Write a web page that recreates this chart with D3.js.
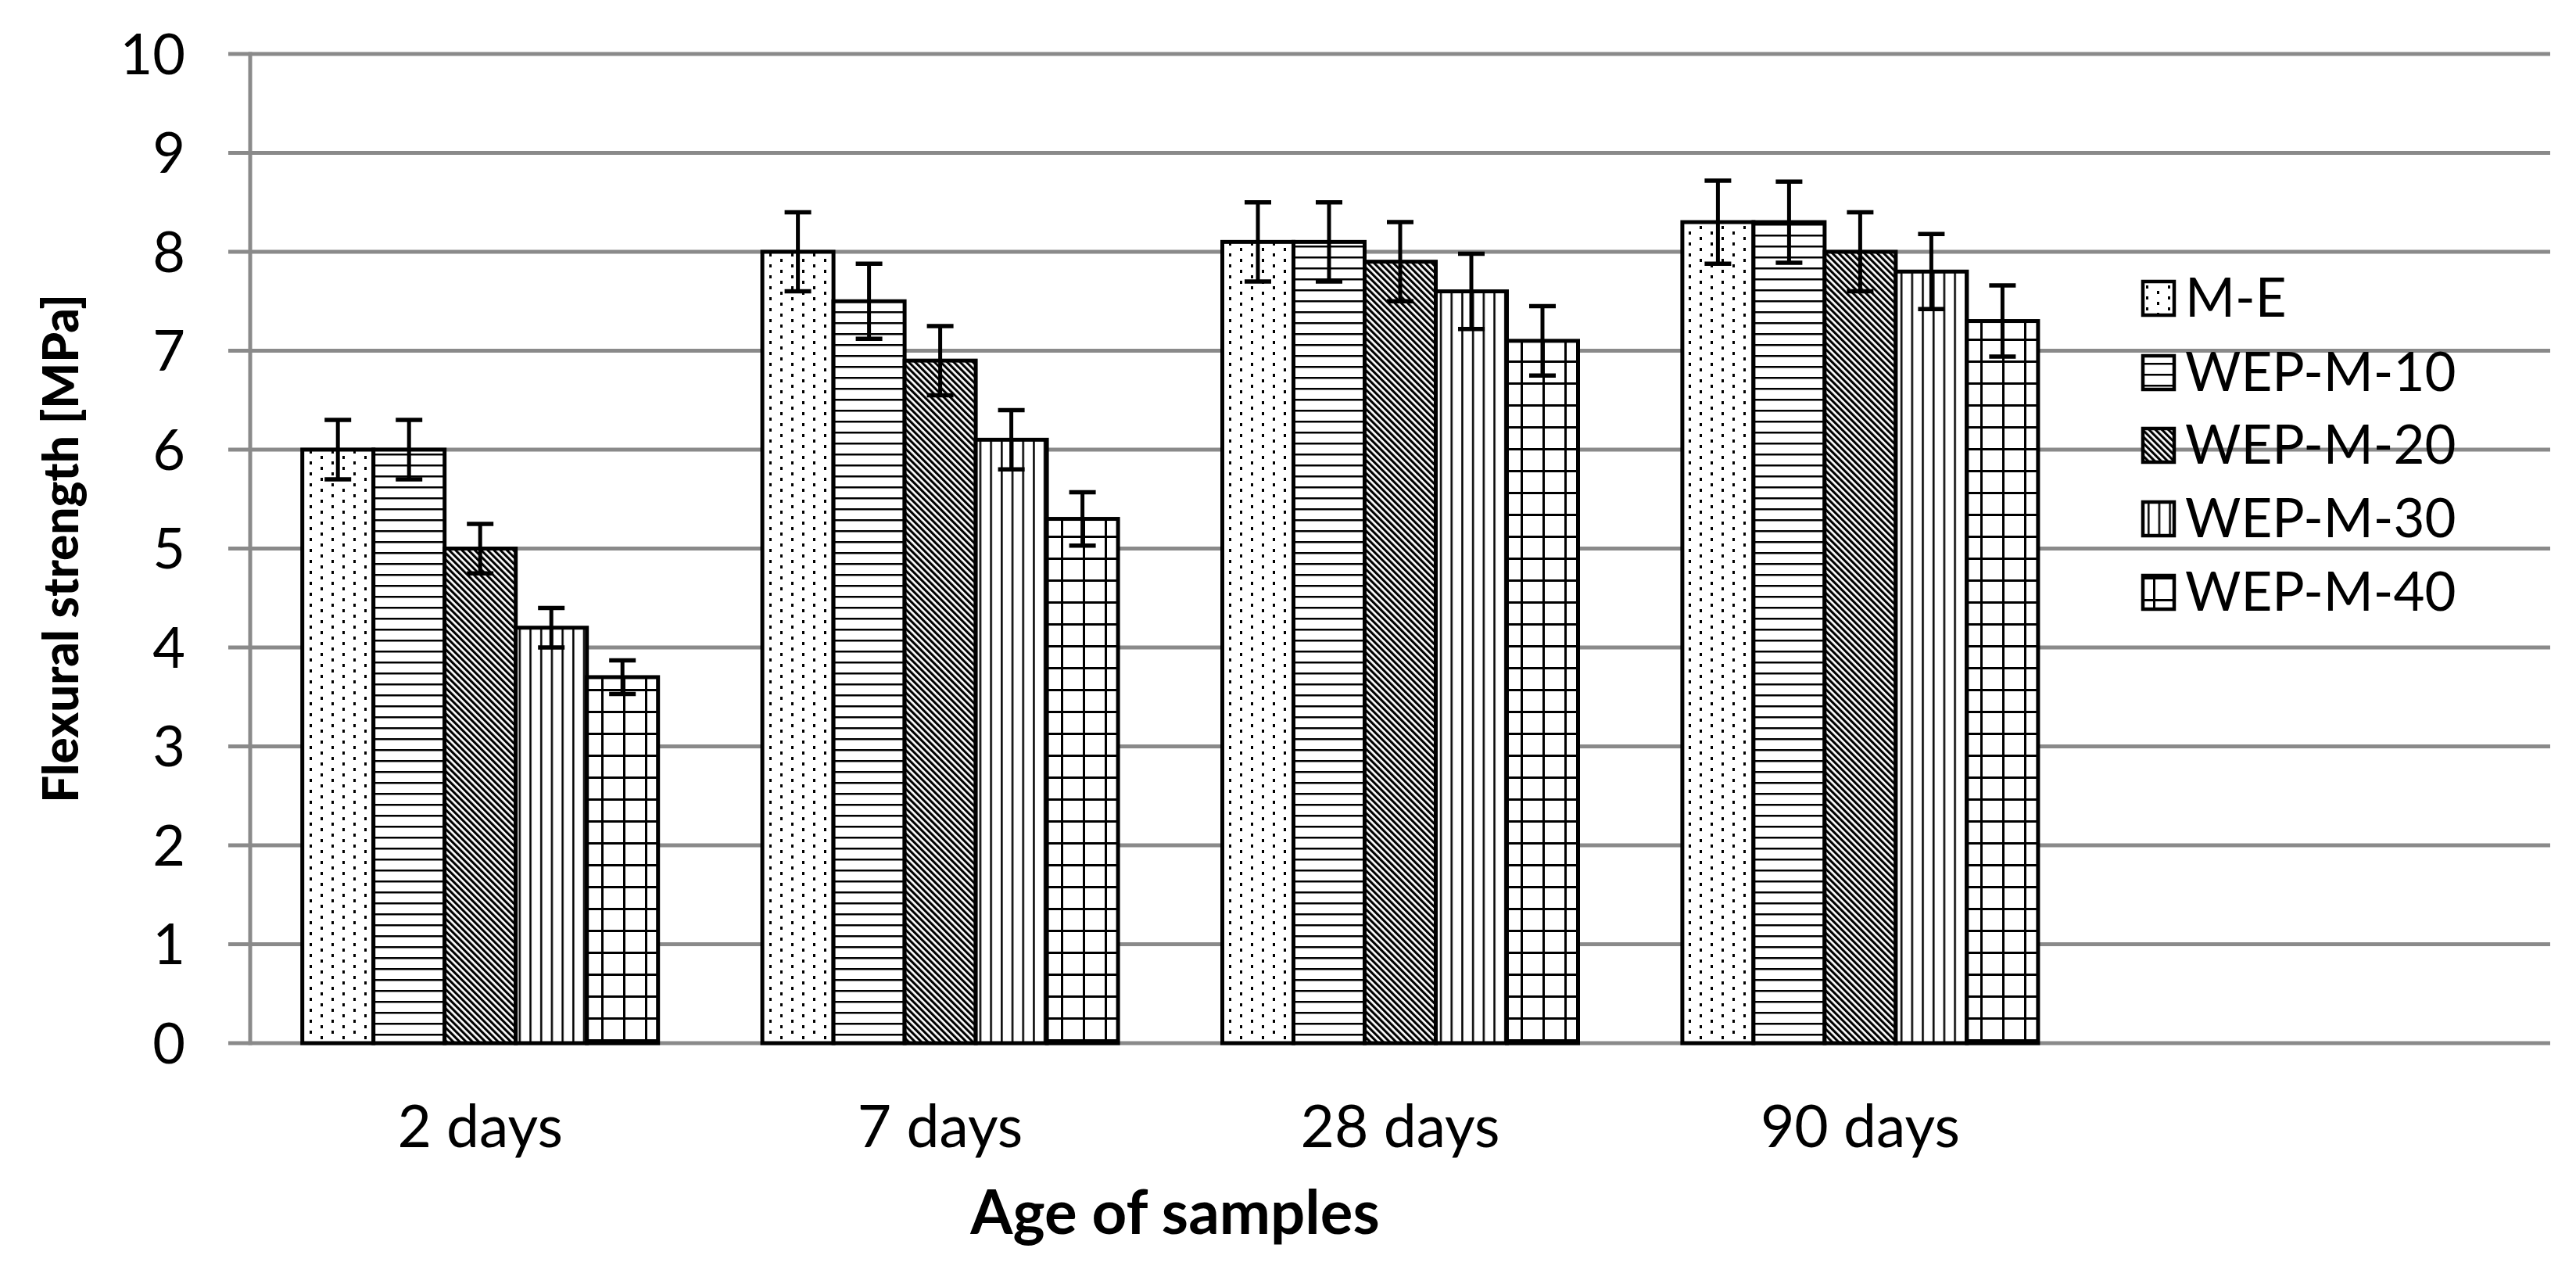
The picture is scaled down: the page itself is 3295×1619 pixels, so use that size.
<!DOCTYPE html>
<html>
<head>
<meta charset="utf-8">
<script src="https://cdn.jsdelivr.net/npm/d3@7/dist/d3.min.js"></script>
<style>
  html, body { margin: 0; padding: 0; background: #ffffff; }
  svg { display: block; }
  text { font-family: Lato, "Open Sans", sans-serif; fill: #000; }
</style>
</head>
<body>
<svg id="chart" width="3295" height="1619"></svg>
<script>
// ---- data ----
const categories = ["2 days", "7 days", "28 days", "90 days"];
const seriesNames = ["M-E", "WEP-M-10", "WEP-M-20", "WEP-M-30", "WEP-M-40"];
const valuesME    = [6.0, 8.0, 8.1, 8.3];
const valuesWEP10 = [6.0, 7.5, 8.1, 8.3];
const valuesWEP20 = [5.0, 6.9, 7.9, 8.0];
const valuesWEP30 = [4.2, 6.1, 7.6, 7.8];
const valuesWEP40 = [3.7, 5.3, 7.1, 7.3];
const errorsME    = [0.30, 0.40, 0.40, 0.42];
const errorsWEP10 = [0.30, 0.38, 0.40, 0.41];
const errorsWEP20 = [0.25, 0.35, 0.40, 0.40];
const errorsWEP30 = [0.20, 0.30, 0.38, 0.38];
const errorsWEP40 = [0.17, 0.27, 0.35, 0.36];
const yTicks = [0, 1, 2, 3, 4, 5, 6, 7, 8, 9, 10];
const yTitle = "Flexural strength [MPa]";
const xTitle = "Age of samples";

const seriesValues = [valuesME, valuesWEP10, valuesWEP20, valuesWEP30, valuesWEP40];
const seriesErrors = [errorsME, errorsWEP10, errorsWEP20, errorsWEP30, errorsWEP40];
const patternIds = ["pDots", "pHoriz", "pDiag", "pVert", "pGrid"];

// ---- layout ----
const svg = d3.select("#chart");
const plotLeft = 320, plotRight = 3262, plotTop = 69, plotBottom = 1334;
const slots = 5; // 4 categories + empty slot where the legend sits
const slotW = (plotRight - plotLeft) / slots;

const x = d3.scaleBand().domain(categories)
  .range([plotLeft, plotLeft + slotW * categories.length]).paddingInner(0).paddingOuter(0);
const xs = d3.scaleBand().domain(seriesNames).range([0, x.bandwidth()])
  .paddingInner(0).paddingOuter(0.733);
const y = d3.scaleLinear().domain([0, 10]).range([plotBottom, plotTop]);

svg.append("rect").attr("width", 3295).attr("height", 1619).attr("fill", "#fff");

// ---- patterns ----
const defs = svg.append("defs");
{
  const p = defs.append("pattern").attr("id", "pDots").attr("patternUnits", "userSpaceOnUse")
    .attr("width", 28).attr("height", 14);
  p.append("rect").attr("width", 28).attr("height", 14).attr("fill", "#fff");
  p.append("rect").attr("x", 4).attr("y", 2).attr("width", 3).attr("height", 4).attr("fill", "#000");
  p.append("rect").attr("x", 18).attr("y", 9).attr("width", 3).attr("height", 4).attr("fill", "#000");
}
{
  const p = defs.append("pattern").attr("id", "pHoriz").attr("patternUnits", "userSpaceOnUse")
    .attr("width", 14).attr("height", 14);
  p.append("rect").attr("width", 14).attr("height", 14).attr("fill", "#fff");
  p.append("rect").attr("x", 0).attr("y", 6).attr("width", 14).attr("height", 2.5).attr("fill", "#000");
}
{
  const p = defs.append("pattern").attr("id", "pVert").attr("patternUnits", "userSpaceOnUse")
    .attr("width", 13.7).attr("height", 14);
  p.append("rect").attr("width", 13.7).attr("height", 14).attr("fill", "#fff");
  p.append("rect").attr("x", 6).attr("y", 0).attr("width", 2.5).attr("height", 14).attr("fill", "#000");
}
{
  const p = defs.append("pattern").attr("id", "pGrid").attr("patternUnits", "userSpaceOnUse")
    .attr("width", 28).attr("height", 28);
  p.append("rect").attr("width", 28).attr("height", 28).attr("fill", "#fff");
  p.append("rect").attr("x", 13).attr("y", 0).attr("width", 3).attr("height", 28).attr("fill", "#000");
  p.append("rect").attr("x", 0).attr("y", 13).attr("width", 28).attr("height", 3).attr("fill", "#000");
}
{
  const p = defs.append("pattern").attr("id", "pDiag").attr("patternUnits", "userSpaceOnUse")
    .attr("width", 5.8).attr("height", 20).attr("patternTransform", "rotate(-45)");
  p.append("rect").attr("width", 5.8).attr("height", 20).attr("fill", "#fff");
  p.append("rect").attr("x", 0).attr("y", 0).attr("width", 3.1).attr("height", 20).attr("fill", "#000");
}

// ---- gridlines & axes ----
const gridColor = "#8a8a8a";
svg.append("g").selectAll("line").data(yTicks).join("line")
  .attr("x1", plotLeft - 28).attr("x2", plotRight)
  .attr("y1", d => y(d)).attr("y2", d => y(d))
  .attr("stroke", gridColor).attr("stroke-width", 5);
svg.append("line").attr("x1", plotLeft).attr("x2", plotLeft)
  .attr("y1", y(10) - 2.5).attr("y2", y(0) + 2.5)
  .attr("stroke", gridColor).attr("stroke-width", 5);

svg.append("g").selectAll("text").data(yTicks).join("text")
  .attr("x", 237).attr("y", d => y(d)).attr("dy", "0.36em")
  .attr("text-anchor", "end").attr("font-size", 72).text(d => d);

svg.append("g").selectAll("text").data(categories).join("text")
  .attr("x", d => x(d) + x.bandwidth() / 2).attr("y", 1467)
  .attr("text-anchor", "middle").attr("font-size", 75).text(d => d);

svg.append("text").attr("x", 1503).attr("y", 1578).attr("text-anchor", "middle")
  .attr("font-size", 78).attr("font-weight", "bold").text(xTitle);

svg.append("text").attr("transform", `translate(100, ${(plotTop + plotBottom) / 2}) rotate(-90)`)
  .attr("text-anchor", "middle").attr("font-size", 62).attr("font-weight", "900").text(yTitle);

// ---- bars ----
const barData = [];
seriesNames.forEach((s, si) => {
  categories.forEach((c, ci) => {
    barData.push({ s, si, c, v: seriesValues[si][ci], e: seriesErrors[si][ci] });
  });
});

svg.append("g").selectAll("rect").data(barData).join("rect")
  .attr("x", d => x(d.c) + xs(d.s)).attr("width", xs.bandwidth())
  .attr("y", d => y(d.v)).attr("height", d => y(0) - y(d.v))
  .attr("fill", d => `url(#${patternIds[d.si]})`)
  .attr("stroke", "#000").attr("stroke-width", 5);

// ---- error bars ----
const eg = svg.append("g").attr("stroke", "#000");
const cx = d => x(d.c) + xs(d.s) + xs.bandwidth() / 2;
eg.selectAll("line.stem").data(barData).join("line").attr("class", "stem")
  .attr("x1", cx).attr("x2", cx)
  .attr("y1", d => y(d.v + d.e)).attr("y2", d => y(d.v - d.e)).attr("stroke-width", 5);
eg.selectAll("line.capT").data(barData).join("line").attr("class", "capT")
  .attr("x1", d => cx(d) - 17).attr("x2", d => cx(d) + 17)
  .attr("y1", d => y(d.v + d.e)).attr("y2", d => y(d.v + d.e)).attr("stroke-width", 5.5);
eg.selectAll("line.capB").data(barData).join("line").attr("class", "capB")
  .attr("x1", d => cx(d) - 17).attr("x2", d => cx(d) + 17)
  .attr("y1", d => y(d.v - d.e)).attr("y2", d => y(d.v - d.e)).attr("stroke-width", 5.5);

// ---- legend ----
const legendBaselines = [405, 500, 593, 687, 781];
const lg = svg.append("g").selectAll("g").data(seriesNames).join("g")
  .attr("transform", (d, i) => `translate(2741, ${legendBaselines[i]})`);
lg.append("rect").attr("x", 0).attr("y", -45).attr("width", 40).attr("height", 43)
  .attr("fill", (d, i) => `url(#${patternIds[i]})`).attr("stroke", "#000").attr("stroke-width", 4.5);
lg.append("text").attr("x", 54).attr("y", 0).attr("font-size", 69).text(d => d);
</script>
</body>
</html>
